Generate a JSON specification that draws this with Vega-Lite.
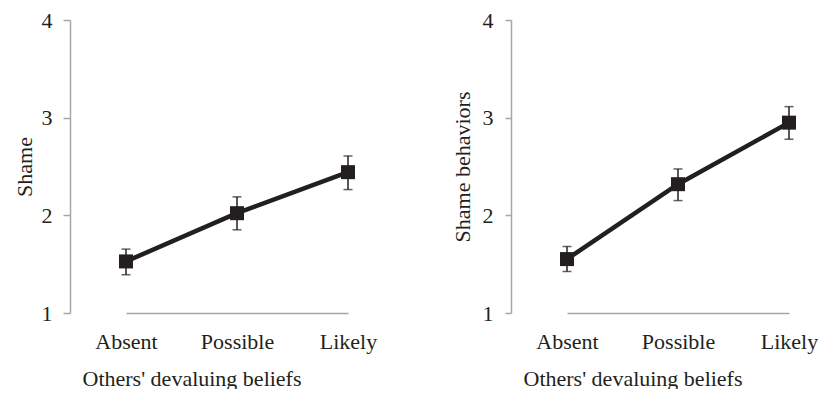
{
  "$schema": "https://vega.github.io/schema/vega-lite/v6.json",
  "autosize": {"type": "pad"},
  "padding": {"left": 13, "top": 9, "right": 0, "bottom": 0},
  "background": "white",
  "config": {
    "font": "Liberation Serif, Times New Roman, serif",
    "view": {"stroke": null},
    "concat": {"spacing": 47},
    "axis": {
      "labelFont": "Liberation Serif, Times New Roman, serif",
      "titleFont": "Liberation Serif, Times New Roman, serif",
      "labelFontSize": 22,
      "titleFontSize": 22,
      "labelColor": "#231f20",
      "titleColor": "#231f20",
      "titleFontWeight": "normal",
      "domainColor": "#a6a6a6",
      "domainWidth": 1.5,
      "tickColor": "#a6a6a6",
      "tickWidth": 1.5,
      "grid": false
    }
  },
  "datasets": {
    "shame": [
      {"belief": "Absent", "mean": 1.528, "lower": 1.392, "upper": 1.654},
      {"belief": "Possible", "mean": 2.022, "lower": 1.852, "upper": 2.189},
      {"belief": "Likely", "mean": 2.442, "lower": 2.264, "upper": 2.608}
    ],
    "behaviors": [
      {"belief": "Absent", "mean": 1.552, "lower": 1.425, "upper": 1.681},
      {"belief": "Possible", "mean": 2.319, "lower": 2.151, "upper": 2.475},
      {"belief": "Likely", "mean": 2.949, "lower": 2.779, "upper": 3.113}
    ]
  },
  "hconcat": [
    {
      "width": 334,
      "height": 293,
      "data": {"name": "shame"},
      "encoding": {
        "x": {
          "field": "belief", "type": "nominal",
          "sort": ["Absent", "Possible", "Likely"],
          "scale": {"type": "point", "range": [56, 278], "padding": 0},
          "axis": {
            "labelAngle": 0, "ticks": false, "tickSize": 0,
            "labelBaseline": "alphabetic", "labelPadding": 35,
            "title": "Others' devaluing beliefs",
            "titleX": 12, "titleY": 72, "titleAlign": "left", "titleBaseline": "alphabetic"
          }
        }
      },
      "layer": [
        {
          "mark": {"type": "rule", "color": "#231f20", "strokeWidth": 1.5},
          "encoding": {
            "y": {"field": "lower", "type": "quantitative",
                  "scale": {"domain": [1, 4], "nice": false, "zero": false},
                  "axis": {"values": [1, 2, 3, 4], "format": "d", "tickSize": 7, "labelPadding": 11, "title": "Shame", "titlePadding": 5}},
            "y2": {"field": "upper"}
          }
        },
        {
          "mark": {"type": "tick", "color": "#231f20", "size": 9, "thickness": 1.5, "orient": "horizontal"},
          "encoding": {"y": {"field": "lower", "type": "quantitative"}}
        },
        {
          "mark": {"type": "tick", "color": "#231f20", "size": 9, "thickness": 1.5, "orient": "horizontal"},
          "encoding": {"y": {"field": "upper", "type": "quantitative"}}
        },
        {
          "mark": {"type": "line", "color": "#231f20", "strokeWidth": 4.5},
          "encoding": {"y": {"field": "mean", "type": "quantitative"}}
        },
        {
          "mark": {"type": "square", "color": "#231f20", "size": 196, "opacity": 1, "filled": true},
          "encoding": {"y": {"field": "mean", "type": "quantitative"}}
        }
      ]
    },
    {
      "width": 319,
      "height": 293,
      "data": {"name": "behaviors"},
      "encoding": {
        "x": {
          "field": "belief", "type": "nominal",
          "sort": ["Absent", "Possible", "Likely"],
          "scale": {"type": "point", "range": [56, 278], "padding": 0},
          "axis": {
            "labelAngle": 0, "ticks": false, "tickSize": 0,
            "labelBaseline": "alphabetic", "labelPadding": 35,
            "title": "Others' devaluing beliefs",
            "titleX": 12, "titleY": 72, "titleAlign": "left", "titleBaseline": "alphabetic"
          }
        }
      },
      "layer": [
        {
          "mark": {"type": "rule", "color": "#231f20", "strokeWidth": 1.5},
          "encoding": {
            "y": {"field": "lower", "type": "quantitative",
                  "scale": {"domain": [1, 4], "nice": false, "zero": false},
                  "axis": {"values": [1, 2, 3, 4], "format": "d", "tickSize": 6, "labelPadding": 12, "title": "Shame behaviors", "titlePadding": 8}},
            "y2": {"field": "upper"}
          }
        },
        {
          "mark": {"type": "tick", "color": "#231f20", "size": 9, "thickness": 1.5, "orient": "horizontal"},
          "encoding": {"y": {"field": "lower", "type": "quantitative"}}
        },
        {
          "mark": {"type": "tick", "color": "#231f20", "size": 9, "thickness": 1.5, "orient": "horizontal"},
          "encoding": {"y": {"field": "upper", "type": "quantitative"}}
        },
        {
          "mark": {"type": "line", "color": "#231f20", "strokeWidth": 4.5},
          "encoding": {"y": {"field": "mean", "type": "quantitative"}}
        },
        {
          "mark": {"type": "square", "color": "#231f20", "size": 196, "opacity": 1, "filled": true},
          "encoding": {"y": {"field": "mean", "type": "quantitative"}}
        }
      ]
    }
  ]
}
